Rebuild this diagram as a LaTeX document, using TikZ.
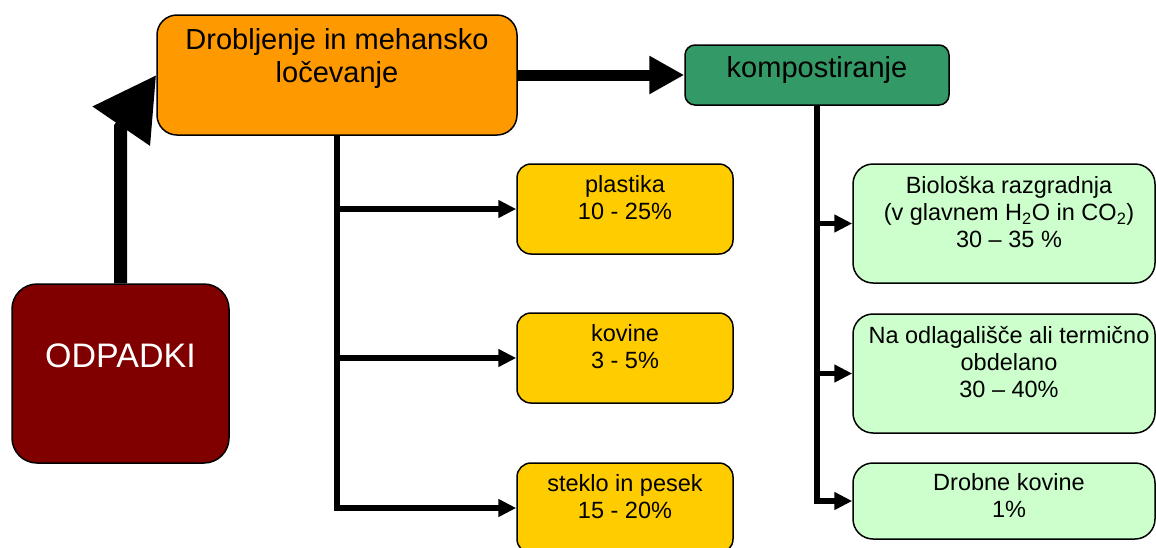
\documentclass[tikz,border=0pt]{standalone}
\usepackage{fontspec}
\setmainfont{Liberation Sans}
\usetikzlibrary{arrows.meta}

\definecolor{wastered}{HTML}{800000}
\definecolor{crushorange}{HTML}{FF9900}
\definecolor{compostgreen}{HTML}{339966}
\definecolor{fractionyellow}{HTML}{FFCC00}
\definecolor{outputgreen}{HTML}{CCFFCC}

\begin{document}
\begin{tikzpicture}[x=1pt, y=-1pt,
  box/.style={rectangle, draw=black, line width=1.5pt, inner sep=0pt},
  fraction/.style={box, fill=fractionyellow, rounded corners=14pt,
                   minimum width=216pt, minimum height=90pt},
  product/.style={box, fill=outputgreen, rounded corners=20pt,
                  minimum width=302pt},
  boxtext/.style={inner sep=0pt, align=center, anchor=north},
  smalltext/.style={boxtext, font=\fontsize{23.5}{27}\selectfont},
  bigarrow/.style={line width=13pt, -{Triangle[length=62pt, width=66pt]}},
  mainarrow/.style={line width=11pt, -{Triangle[length=35pt, width=36pt]}},
  branch/.style={line width=5.5pt, -{Triangle[length=18pt, width=17pt]}}
]
\useasboundingbox (0,0) rectangle (1156,547);
\clip (0,0) rectangle (1156,547);

% main boxes
\node[box, fill=wastered, rounded corners=25pt,
      minimum width=217pt, minimum height=179pt] (odp) at (120.5,373.5) {};
\node[box, fill=crushorange, rounded corners=20pt,
      minimum width=360pt, minimum height=120pt] (drob) at (337,75) {};
\node[box, fill=compostgreen, rounded corners=10pt,
      minimum width=264pt, minimum height=60pt] (komp) at (817,75) {};

% separated fractions
\node[fraction] (plast) at (625,209) {};
\node[fraction] (kov)   at (625,358) {};
\node[fraction] (stek)  at (625,508) {};

% composting outputs
\node[product, minimum height=119pt] (bio)  at (1004,223.5) {};
\node[product, minimum height=119pt] (odl)  at (1004,373.5) {};
\node[product, minimum height=76pt]  (kovd) at (1004,501) {};

% labels
\node[inner sep=0pt, anchor=base, text=white,
      font=\fontsize{34}{40}\selectfont] (odptxt) at (120.5,367) {ODPADKI};
\node[boxtext, font=\fontsize{29}{33}\selectfont] (drobtxt) at (337,28.2)
  {Drobljenje in mehansko\\ločevanje};
\node[inner sep=0pt, anchor=base, font=\fontsize{29}{33}\selectfont]
  (komptxt) at (817,77) {kompostiranje};

\node[smalltext] (plasttxt) at (625,175.2) {plastika\\10 - 25\%};
\node[smalltext] (kovtxt)   at (625,324.2) {kovine\\3 - 5\%};
\node[smalltext] (stektxt)  at (625,474.2) {steklo in pesek\\15 - 20\%};

\node[smalltext] (biotxt)  at (1009,176.2)
  {Biološka razgradnja\\(v glavnem H\textsubscript{2}O in CO\textsubscript{2})\\30 – 35 \%};
\node[smalltext] (odltxt)  at (1009,326.2)
  {Na odlagališče ali termično\\obdelano\\30 – 40\%};
\node[smalltext] (kovdtxt) at (1009,473.2) {Drobne kovine\\1\%};

% connectors
\draw[bigarrow] (odp.north) -- ++(0,-156) -- (drob.west);
\draw[mainarrow] (drob.east) -- (komp.west);

\draw[branch] (drob.south) |- (plast.west);
\draw[branch] (drob.south) |- (kov.west);
\draw[branch] (drob.south) |- (stek.west);

\draw[branch] (komp.south) |- (bio.west);
\draw[branch] (komp.south) |- (odl.west);
\draw[branch] (komp.south) |- (kovd.west);
\end{tikzpicture}
\end{document}
